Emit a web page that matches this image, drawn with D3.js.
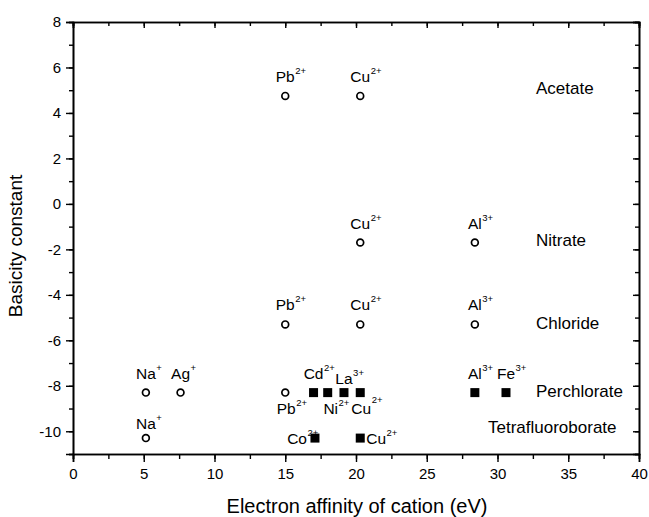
<!DOCTYPE html>
<html>
<head>
<meta charset="utf-8">
<script src="https://cdn.jsdelivr.net/npm/d3@7"></script>
<style>
  body { margin: 0; background: #fff; }
  text { font-family: "Liberation Sans", Arial, sans-serif; fill: #000; }
</style>
</head>
<body>
<div class="chart"></div>
<script>
// anion series and their basicity constants
var anions = ["Acetate", "Nitrate", "Chloride", "Perchlorate", "Tetrafluoroborate"];
var basicity = [4.75, -1.7, -5.3, -8.3, -10.3];

// cation points: name, charge, electron affinity (eV), anion index, filled symbol
var cations  = ["Pb", "Cu", "Cu", "Al", "Pb", "Cu", "Al", "Na", "Ag", "Pb", "Cd", "Ni", "La", "Cu", "Al", "Fe", "Na", "Co", "Cu"];
var charges  = ["2+", "2+", "2+", "3+", "2+", "2+", "3+", "+", "+", "2+", "2+", "2+", "3+", "2+", "3+", "3+", "+", "2+", "2+"];
var affinity = [15.0, 20.3, 20.3, 28.4, 15.0, 20.3, 28.4, 5.15, 7.6, 15.0, 17.0, 18.0, 19.15, 20.3, 28.4, 30.6, 5.15, 17.1, 20.3];
var anionOf  = [0, 0, 1, 1, 2, 2, 2, 3, 3, 3, 3, 3, 3, 3, 3, 3, 4, 4, 4];
var filled   = [0, 0, 0, 0, 0, 0, 0, 0, 0, 0, 1, 1, 1, 1, 1, 1, 0, 1, 1];

var xTicks = [0, 5, 10, 15, 20, 25, 30, 35, 40];
var yTicks = [-10, -8, -6, -4, -2, 0, 2, 4, 6, 8];

// label placement (layout only): side of the point, small nudges in px
var labelAt  = ["up", "up", "up", "up", "up", "up", "up", "up", "up", "down", "up", "down", "up", "down", "up", "up", "up", "left", "right"];
var nudgeX   = [0, 0, 0, 0, 0, 0, 0, 0, 0, 0, 0, 2, 0, 0, 0, 0, 0, 0, 0];
var nudgeY   = [0, 0, 0, 0, 0, 0, 0, 0, 0, 0, 0, 0, 5, 0, 0, 0, 5, 0, 0];
var supLift  = [8, 8, 8, 8, 8, 8, 8, 8, 8, 8, 8, 8, 8, 11, 8, 8, 8, 8, 8];

var W = 649, H = 517;
var x = d3.scaleLinear().domain([0, 40]).range([73, 639]);
var y = d3.scaleLinear().domain([-11, 8]).range([454, 22]);

var svg = d3.select(".chart").append("svg").attr("width", W).attr("height", H);

// axes
var fmt = function (d) { return String(d); };
var minorX = d3.range(0, 40.1, 2.5), minorY = d3.range(-11, 8.1, 1);
svg.append("g").attr("transform", "translate(0,454)")
    .call(d3.axisBottom(x).tickValues(minorX).tickSize(5).tickFormat(""));
svg.append("g").attr("class", "lab").attr("transform", "translate(0,454)")
    .call(d3.axisBottom(x).tickValues(xTicks).tickSize(8).tickPadding(6).tickFormat(fmt));
svg.append("g").attr("transform", "translate(0,22)")
    .call(d3.axisTop(x).tickValues(minorX).tickSize(-4).tickFormat(""));
svg.append("g").attr("transform", "translate(0,22)")
    .call(d3.axisTop(x).tickValues(xTicks).tickSize(-6).tickFormat(""));
svg.append("g").attr("transform", "translate(73,0)")
    .call(d3.axisLeft(y).tickValues(minorY).tickSize(4).tickFormat(""));
svg.append("g").attr("class", "lab").attr("transform", "translate(73,0)")
    .call(d3.axisLeft(y).tickValues(yTicks).tickSize(7).tickPadding(5).tickFormat(fmt));
svg.append("g").attr("transform", "translate(639,0)")
    .call(d3.axisRight(y).tickValues(minorY).tickSize(-4).tickFormat(""));
svg.append("g").attr("transform", "translate(639,0)")
    .call(d3.axisRight(y).tickValues(yTicks).tickSize(-6).tickFormat(""));

svg.selectAll(".domain").attr("stroke", "#000").attr("stroke-width", 1.6);
svg.selectAll(".tick line").attr("stroke", "#000").attr("stroke-width", 1.4);
svg.selectAll(".lab .tick text").style("font-size", "15px")
    .style("font-family", "Liberation Sans, Arial, sans-serif").attr("fill", "#000");

// axis titles
svg.append("text").attr("x", 357).attr("y", 513).attr("text-anchor", "middle")
    .style("font-size", "20px").text("Electron affinity of cation (eV)");
svg.append("text").attr("transform", "translate(22,246) rotate(-90)").attr("text-anchor", "middle")
    .style("font-size", "19px").text("Basicity constant");

// points
var pts = cations.map(function (c, i) {
    return { name: c, charge: charges[i], x: affinity[i], y: basicity[anionOf[i]], filled: filled[i], i: i };
});

svg.append("g").selectAll("circle").data(pts.filter(function (d) { return !d.filled; }))
    .enter().append("circle")
    .attr("cx", function (d) { return x(d.x); })
    .attr("cy", function (d) { return y(d.y); })
    .attr("r", 3.4).attr("fill", "none").attr("stroke", "#000").attr("stroke-width", 1.7);

svg.append("g").selectAll("rect").data(pts.filter(function (d) { return d.filled; }))
    .enter().append("rect")
    .attr("x", function (d) { return x(d.x) - 4.5; })
    .attr("y", function (d) { return y(d.y) - 4.5; })
    .attr("width", 9).attr("height", 9).attr("fill", "#000");

// cation labels with superscript charge
pts.forEach(function (d) {
    var i = d.i, px = x(d.x), py = y(d.y);
    var t = svg.append("text").style("font-size", "15.5px").text(d.name);
    var w = t.node().getComputedTextLength();
    var sx, by;
    if (labelAt[i] === "up") { sx = px - w / 2; by = py - 14; }
    else if (labelAt[i] === "down") { sx = px - w / 2 + 1; by = py + 21; }
    else if (labelAt[i] === "left") { sx = px - 8 - w; by = py + 6; }
    else { sx = px + 6; by = py + 6; }
    sx += nudgeX[i]; by += nudgeY[i];
    t.attr("x", sx).attr("y", by);
    svg.append("text").attr("x", sx + w + 0.5).attr("y", by - supLift[i])
        .style("font-size", "9.5px").text(d.charge);
});

// anion series labels
var anionX = [536, 536, 536, 536, 488];
var anionDy = [-2, 3, 5, 4, -5];
svg.append("g").selectAll("text").data(anions).enter().append("text")
    .attr("x", function (d, i) { return anionX[i]; })
    .attr("y", function (d, i) { return y(basicity[i]) + anionDy[i]; })
    .style("font-size", "17px")
    .text(function (d) { return d; });
</script>
</body>
</html>
